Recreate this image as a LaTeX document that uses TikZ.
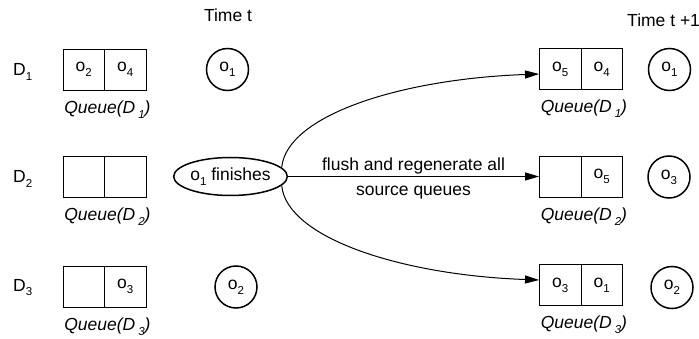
\documentclass[tikz,border=0pt]{standalone}
\usepackage{fontspec}
\setmainfont{Liberation Sans}
\usetikzlibrary{arrows.meta,shapes.geometric}
\newcommand\lsub[1]{\raisebox{-0.28em}{\fontsize{11.5}{12}\selectfont #1}}
\begin{document}
\begin{tikzpicture}[x=1pt,y=-1pt,
  every node/.style={font=\fontsize{17.5}{20}\selectfont, inner sep=0pt},
  cell/.style={draw, line width=0.9pt, minimum width=41.5pt, minimum height=41pt},
  obj/.style={draw, circle, line width=1.5pt, minimum size=42pt},
  qlabel/.style={anchor=base, font=\fontsize{17.5}{20}\selectfont\itshape},
  dlabel/.style={anchor=base west},
  conn/.style={line width=1pt, -{Triangle[length=14pt,width=8pt]}}
]
\useasboundingbox (0,0) rectangle (699,339);
% time labels
\node (tt) at (228,15) {Time t};
\node[anchor=west] (tt1) at (627,20) {Time t +1};
% D labels
\node[dlabel] (d1) at (13,76) {D\lsub{1}};
\node[dlabel] (d2) at (13,183) {D\lsub{2}};
\node[dlabel] (d3) at (13,291) {D\lsub{3}};
% left queues
\node[cell] (l1a) at (83.75,69.5) {o\lsub{2}};
\node[cell] (l1b) at (125.25,69.5) {o\lsub{4}};
\node[cell] (l2a) at (83.75,176.5) {};
\node[cell] (l2b) at (125.25,176.5) {};
\node[cell] (l3a) at (83.75,286.5) {};
\node[cell] (l3b) at (125.25,286.5) {o\lsub{3}};
\node[qlabel] (ql1) at ([yshift=-23pt,xshift=2.5pt]l1a.south east) {Queue(D\,\lsub{1})};
\node[qlabel] (ql2) at ([yshift=-23pt,xshift=2.5pt]l2a.south east) {Queue(D\,\lsub{2})};
\node[qlabel] (ql3) at ([yshift=-23pt,xshift=2.5pt]l3a.south east) {Queue(D\,\lsub{3})};
% left objects
\node[obj] (c1) at (227.5,69.5) {o\lsub{1}};
\node[obj] (c2) at (236,287) {o\lsub{2}};
\node[draw, ellipse, line width=1.5pt, minimum width=106pt, minimum height=38pt] (fin) at (230.5,176.5) {o\lsub{1} finishes};
% right queues
\node[cell] (r1a) at (560.25,69) {o\lsub{5}};
\node[cell] (r1b) at (601.75,69) {o\lsub{4}};
\node[cell] (r2a) at (560.25,176.5) {};
\node[cell] (r2b) at (601.75,176.5) {o\lsub{5}};
\node[cell] (r3a) at (560.25,285) {o\lsub{3}};
\node[cell] (r3b) at (601.75,285) {o\lsub{1}};
\node[qlabel] (rq1) at ([yshift=-23pt,xshift=2.5pt]r1a.south east) {Queue(D\,\lsub{1})};
\node[qlabel] (rq2) at ([yshift=-23pt,xshift=2.5pt]r2a.south east) {Queue(D\,\lsub{2})};
\node[qlabel] (rq3) at ([yshift=-23pt,xshift=2.5pt]r3a.south east) {Queue(D\,\lsub{3})};
% right objects
\node[obj] (rc1) at (669.5,69.5) {o\lsub{1}};
\node[obj] (rc3) at (669,177) {o\lsub{3}};
\node[obj] (rc2) at (672,287.5) {o\lsub{2}};
% connectors
\draw[conn] (fin.east) -- node[anchor=base, yshift=5.5pt] (lab1) {flush and regenerate all} node[anchor=base, yshift=-19pt] (lab2) {source queues} (r2a.west);
\draw[conn] (fin.10) .. controls +(5,-52) and +(-139,5) .. ([yshift=-5pt]r1a.west);
\draw[conn] (fin.350) .. controls +(5,52) and +(-139,-5) .. ([yshift=5pt]r3a.west);
\end{tikzpicture}
\end{document}
